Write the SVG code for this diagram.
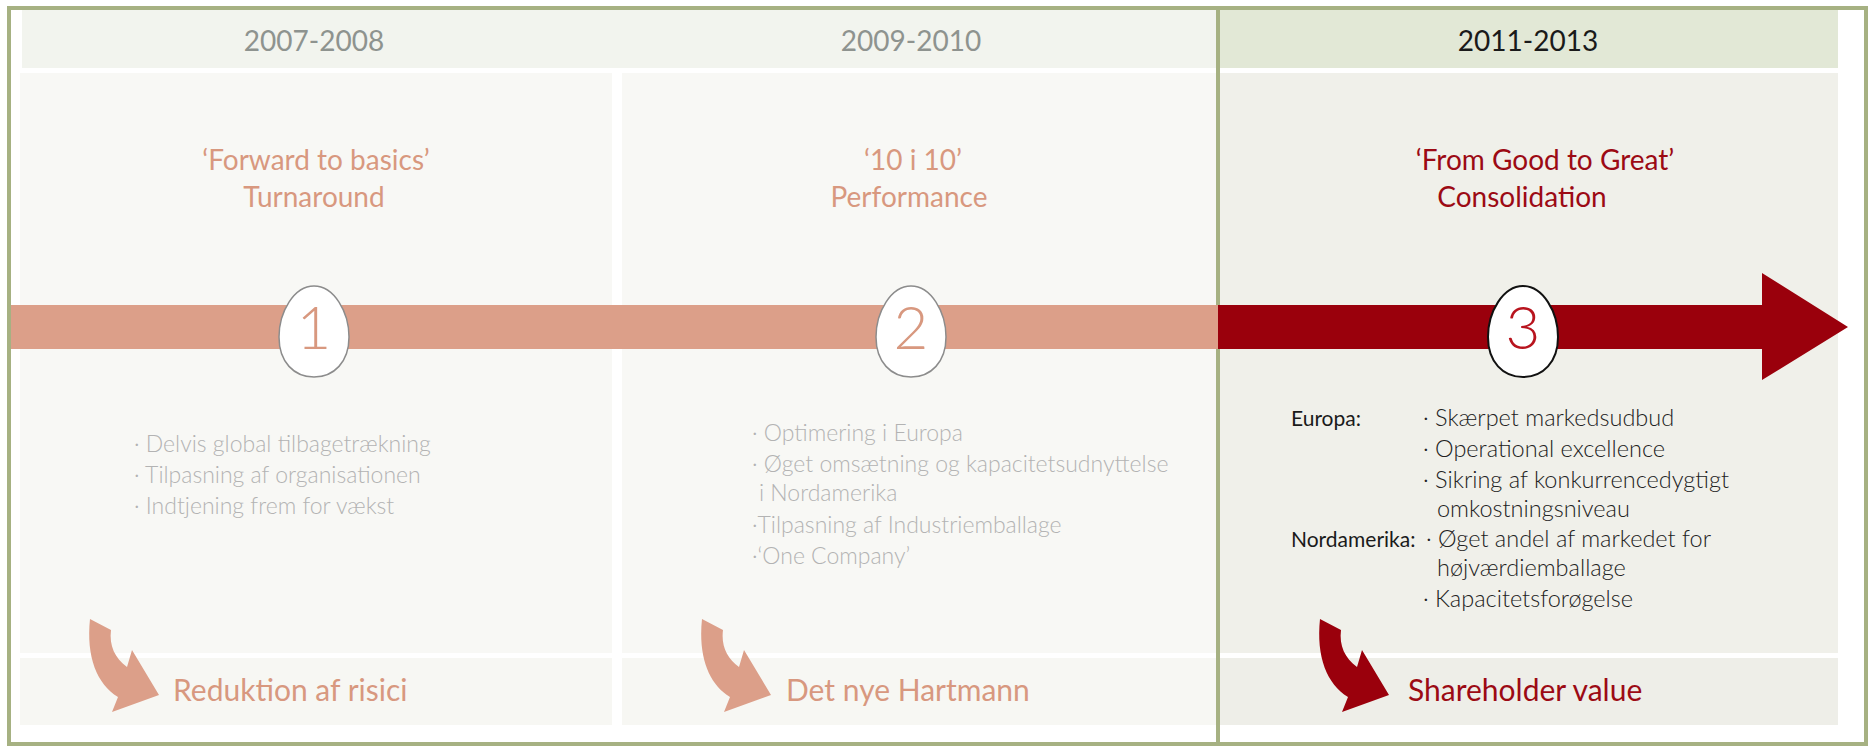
<svg xmlns="http://www.w3.org/2000/svg" width="1875" height="747" viewBox="0 0 1875 747">
<style>
text{font-family:Lato,"Open Sans","Liberation Sans",sans-serif}
.hdr{font-size:28px;fill:#8e938f;text-anchor:middle}
.hdr3{font-size:28px;fill:#1a1a1a;text-anchor:middle}
.ttl{font-size:28px;fill:#d8987f;text-anchor:middle}
.ttl3{font-size:28px;fill:#9c0a14;text-anchor:middle}
.bl{font-size:23px;font-weight:300;fill:#b3b3b3}
.bl3{font-size:23.5px;font-weight:300;fill:#222222}
.lbl3{font-size:21px;fill:#1a1a1a}
.bot{font-size:30px;fill:#d8987f}
.bot3{font-size:30px;fill:#9c0a14}
.dig{font-size:60px;font-weight:300;text-anchor:middle}
.egg{fill:#ffffff;stroke:#8c8c8c;stroke-width:1.5}
</style>
<defs>
<path id="egg" d="M0 -46 C20 -46 35 -20 35 5 C35 30 20 45 0 45 C-20 45 -35 30 -35 5 C-35 -20 -20 -46 0 -46 Z"/>
<path id="carrow" d="M90 619 L111 630 C109 646 115 658 127 667 L132 650 L159 695 L112 712 L118 697 C97 684 86 657 90 619 Z"/>
</defs>
<rect width="1875" height="747" fill="#ffffff"/>
<g id="panels">
<rect x="22" y="10" width="1194" height="58" fill="#f2f4ee"/>
<rect x="1220" y="10" width="618" height="58" fill="#e2e8d6"/>
<rect x="20" y="73" width="592" height="580" fill="#f8f8f5"/>
<rect x="622" y="73" width="594" height="580" fill="#f8f8f5"/>
<rect x="1220" y="73" width="618" height="580" fill="#f0f0ea"/>
<rect x="20" y="658" width="592" height="67" fill="#f7f7f3"/>
<rect x="622" y="658" width="594" height="67" fill="#f7f7f3"/>
<rect x="1220" y="658" width="618" height="67" fill="#eeeee8"/>
</g>
<g id="frame" fill="none" stroke="#a6b182" stroke-width="4">
<rect x="9" y="8" width="1857" height="736"/>
<line x1="1218" y1="8" x2="1218" y2="744"/>
</g>
<g id="connectors">
<rect x="11" y="305" width="1207" height="44" fill="#dc9f89"/>
<path d="M1218 305 L1762 305 L1762 273 L1848 327 L1762 380 L1762 349 L1218 349 Z" fill="#9a000c"/>
<use href="#carrow" fill="#dc9f89"/>
<use href="#carrow" transform="translate(612,0)" fill="#dc9f89"/>
<use href="#carrow" transform="translate(1230,0)" fill="#9a000c"/>
</g>
<g id="col1">
<text class="hdr" x="314" y="51">2007-2008</text>
<text class="ttl" x="316" y="170">‘Forward to basics’</text>
<text class="ttl" x="314" y="207">Turnaround</text>
<use href="#egg" class="egg" transform="translate(314,332)"/>
<text class="dig" x="314" y="349" fill="#d8987f">1</text>
<text class="bl" x="134" y="452">· Delvis global tilbagetrækning</text>
<text class="bl" x="134" y="483">· Tilpasning af organisationen</text>
<text class="bl" x="134" y="514">· Indtjening frem for vækst</text>
<text class="bot" x="173" y="701">Reduktion af risici</text>
</g>
<g id="col2">
<text class="hdr" x="911" y="51">2009-2010</text>
<text class="ttl" x="913" y="170">‘10 i 10’</text>
<text class="ttl" x="909" y="207">Performance</text>
<use href="#egg" class="egg" transform="translate(911,332)"/>
<text class="dig" x="911" y="349" fill="#d8987f">2</text>
<text class="bl" x="752" y="441">· Optimering i Europa</text>
<text class="bl" x="752" y="472">· Øget omsætning og kapacitetsudnyttelse</text>
<text class="bl" x="759" y="501">i Nordamerika</text>
<text class="bl" x="752" y="533">·Tilpasning af Industriemballage</text>
<text class="bl" x="752" y="564">·‘One Company’</text>
<text class="bot" x="786" y="701">Det nye Hartmann</text>
</g>
<g id="col3">
<text class="hdr3" x="1528" y="51">2011-2013</text>
<text class="ttl3" x="1545" y="170">‘From Good to Great’</text>
<text class="ttl3" x="1522" y="207">Consolidation</text>
<use href="#egg" transform="translate(1523,332)" fill="#ffffff" stroke="#111111" stroke-width="2"/>
<text class="dig" x="1523" y="349" fill="#b8141e">3</text>
<text class="lbl3" x="1291" y="426">Europa:</text>
<text class="bl3" x="1423" y="426">· Skærpet markedsudbud</text>
<text class="bl3" x="1423" y="457">· Operational excellence</text>
<text class="bl3" x="1423" y="488">· Sikring af konkurrencedygtigt</text>
<text class="bl3" x="1437" y="517">omkostningsniveau</text>
<text class="lbl3" x="1291" y="547">Nordamerika:</text>
<text class="bl3" x="1426" y="547">· Øget andel af markedet for</text>
<text class="bl3" x="1437" y="576">højværdiemballage</text>
<text class="bl3" x="1423" y="607">· Kapacitetsforøgelse</text>
<text class="bot3" x="1408" y="701">Shareholder value</text>
</g>
</svg>
